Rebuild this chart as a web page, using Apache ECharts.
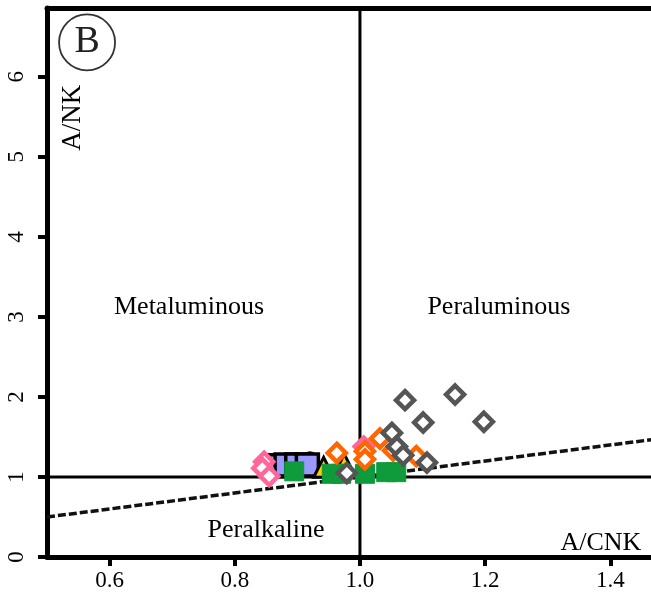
<!DOCTYPE html>
<html><head><meta charset="utf-8">
<script src="https://cdn.jsdelivr.net/npm/echarts@6/dist/echarts.min.js"></script>
<style>html,body{margin:0;padding:0;background:#fff}#c{width:651px;height:603px}</style>
</head><body><div id="c"></div>
<script>
const xTicks = [0.6, 0.8, 1.0, 1.2, 1.4];
const yTicks = [0, 1, 2, 3, 4, 5, 6];
const dividerLine = [[0.5, 0.5], [1.5, 1.5]];
const verticalLine = [[1.0, 0], [1.0, 7]];
const horizontalLine = [[0.5, 1.0], [1.5, 1.0]];
const greyDiamonds = [[1.072,1.96],[1.152,2.03],[1.101,1.68],[1.198,1.69],[1.051,1.55],[1.059,1.38],[1.069,1.27],[1.107,1.18],[0.979,1.05]];
const orangeDiamonds = [[1.032,1.48],[1.053,1.33],[1.090,1.26],[1.008,1.32],[1.008,1.22],[0.963,1.30]];
const pinkDiamonds = [[0.847,1.19],[0.844,1.11],[0.855,1.01],[1.006,1.38]];
const blueSquares = [[0.866,1.14],[0.882,1.15],[0.899,1.15],[0.916,1.15]];
const blackCircles = [[0.920,1.21]];
const yellowTriangles = [[0.942,1.12],[0.975,1.16]];
const greenSquares = [[0.895,1.07],[0.955,1.04],[0.970,1.04],[1.008,1.04],[1.042,1.06],[1.058,1.06]];
const regionLabels = [[0.727,3.125,'Metaluminous'],[1.222,3.125,'Peraluminous'],[0.85,0.34,'Peralkaline']];
const axisTitles = [[1.385,0.175,'A/CNK']];
const yTitle = [[0.542,5.49,'A/NK']];
const panelTag = [[0.564,6.43,'B']];

const F = 'Liberation Serif';
const chart = echarts.init(document.getElementById('c'));
function diamond(name, data, color) {
  return {type:'scatter', name, data, symbol:'diamond', symbolSize:[18,18],
    itemStyle:{color:'#fff', borderColor:color, borderWidth:4.5, opacity:1}, z:5};
}
const txt = (size, rot) => ({show:true, position:'inside', rotate:rot||0, formatter:p=>p.data[2], fontFamily:F, fontSize:size, color:'#000'});
chart.setOption({
  animation:false,
  grid:{left:47, top:8, right:0, bottom:46},
  xAxis:[{type:'value', min:0.5, max:1.465, position:'bottom',
    axisLine:{show:true, onZero:false, lineStyle:{color:'#000', width:5}},
    axisTick:{show:true, customValues:xTicks, length:9, lineStyle:{color:'#000', width:4}},
    axisLabel:{customValues:xTicks, formatter:v=>v.toFixed(1), fontFamily:F, fontSize:23, color:'#000', margin:12},
    splitLine:{show:false}},
    {type:'value', min:0.5, max:1.465, position:'top',
    axisLine:{show:true, onZero:false, lineStyle:{color:'#000', width:5}},
    axisTick:{show:false}, axisLabel:{show:false}, splitLine:{show:false}}],
  yAxis:{type:'value', min:0, max:6.86,
    axisLine:{show:true, onZero:false, lineStyle:{color:'#000', width:5}},
    axisTick:{show:true, customValues:yTicks, length:9, lineStyle:{color:'#000', width:4}},
    axisLabel:{customValues:yTicks, rotate:90, fontFamily:F, fontSize:23, color:'#000', margin:19},
    splitLine:{show:false}},
  series:[
    {type:'line', data:dividerLine, symbol:'none', lineStyle:{color:'#111', width:3.5, type:[8,3]}, z:2},
    {type:'line', data:verticalLine, symbol:'none', lineStyle:{color:'#000', width:3}, z:2},
    {type:'line', data:horizontalLine, symbol:'none', lineStyle:{color:'#000', width:3}, z:2},
    {type:'scatter', data:blackCircles, symbol:'circle', symbolSize:18, itemStyle:{color:'#000', opacity:1}, z:3},
    {type:'scatter', data:blueSquares, symbol:'rect', symbolSize:22, itemStyle:{color:'#9999ff', borderColor:'#000', borderWidth:3.5, opacity:1}, z:4},
    {type:'scatter', data:yellowTriangles, symbol:'triangle', symbolSize:20, itemStyle:{color:'#ffcc00', borderColor:'#000', borderWidth:3, opacity:1}, z:4},
    {type:'scatter', data:greenSquares, symbol:'rect', symbolSize:19, itemStyle:{color:'#0f9a3c', borderColor:'#0f9a3c', borderWidth:1, opacity:1}, z:4},
    diamond('pink', pinkDiamonds, '#ff6699'),
    diamond('orange', orangeDiamonds, '#ff6600'),
    diamond('grey', greyDiamonds, '#555555'),
    {type:'scatter', data:regionLabels, symbolSize:0, silent:true, itemStyle:{opacity:1}, label:txt(26), z:6},
    {type:'scatter', data:axisTitles, symbolSize:0, silent:true, itemStyle:{opacity:1}, label:txt(26), z:6},
    {type:'scatter', data:yTitle, symbolSize:0, silent:true, itemStyle:{opacity:1}, label:txt(27, 90), z:6},
    {type:'scatter', data:panelTag, symbol:'circle', symbolSize:56, silent:true,
      itemStyle:{color:'#fff', borderColor:'#333', borderWidth:1.8, opacity:1},
      label:{show:true, position:'inside', formatter:p=>p.data[2], fontFamily:F, fontSize:38, color:'#222'}, z:6}
  ]
});
</script></body></html>
